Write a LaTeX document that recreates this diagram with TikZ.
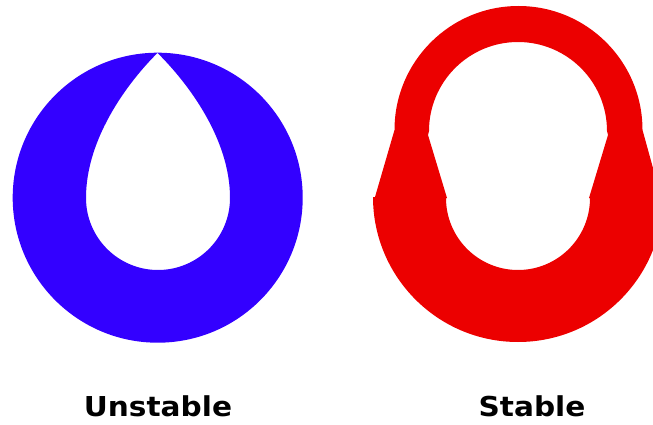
\documentclass[tikz,border=0pt]{standalone}
\usepackage{fontspec}
\newfontfamily\labfont{DejaVu Sans}
\definecolor{ublue}{RGB}{51,0,255}
\definecolor{sred}{RGB}{236,0,0}
\tikzset{
  lab/.style={anchor=base, inner sep=0pt, text=black,
    font=\labfont\bfseries\fontsize{27.4}{30}\selectfont},
}
\begin{document}
\begin{tikzpicture}[x=1pt,y=1pt,yscale=-1]
\useasboundingbox (0,0) rectangle (653,425);
\clip (0,0) rectangle (653,425);
% unstable shape
\fill[ublue, even odd rule]
  (157.7,197.7) circle[radius=145]
  (157.5,53) .. controls (140,70) and (86,130) .. (86,198)
  arc[start angle=180, end angle=0, radius=72]
  .. controls (230,130) and (175,70) .. (157.5,53) -- cycle;
% stable shape
\fill[sred, even odd rule]
  (373,197) arc[start angle=180, end angle=0, radius=145]
  -- (661,197) -- (642.5,130)
  arc[start angle=0, end angle=-180, radius=124]
  -- (375,197) -- cycle
  (446,198) arc[start angle=180, end angle=0, radius=72]
  -- (589,198) -- (608,135) -- (607,131)
  arc[start angle=0, end angle=-180, radius=89]
  -- (428,135) -- (447,198) -- cycle;
\node[lab] (u) at (158,416.7) {\scalebox{1.08}[1]{Unstable}};
\node[lab] (s) at (532,416.7) {\scalebox{1.08}[1]{Stable}};
\end{tikzpicture}
\end{document}
